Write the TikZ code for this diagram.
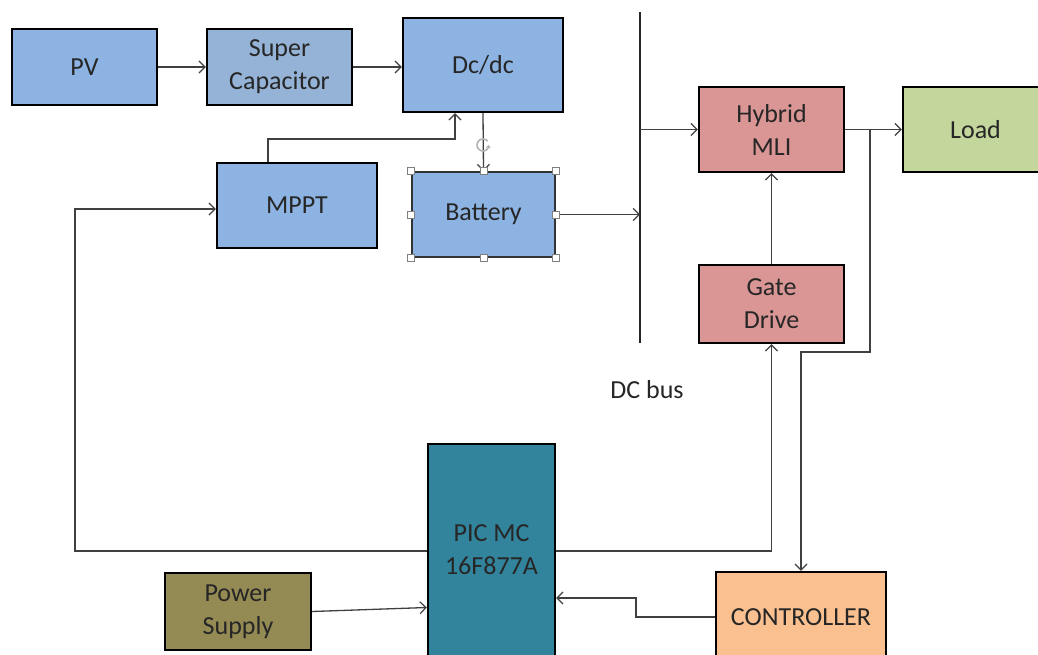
\documentclass[tikz,border=0pt]{standalone}
\usepackage{fontspec}
\setmainfont{Carlito}
\usetikzlibrary{arrows.meta,calc}
\definecolor{blu}{HTML}{8DB3E2}
\definecolor{scblu}{HTML}{95B3D7}
\definecolor{rd}{HTML}{D99694}
\definecolor{grn}{HTML}{C3D69B}
\definecolor{teal}{HTML}{31849B}
\definecolor{olive}{HTML}{948A54}
\definecolor{orng}{HTML}{FAC090}
\definecolor{linec}{HTML}{404040}
\begin{document}
\begin{tikzpicture}[x=1pt,y=-1pt,
  box/.style={draw=black,line width=2.4pt,inner sep=0pt,align=center,
    font=\fontsize{26}{33}\selectfont,text=black!85},
  conn/.style={draw=linec,line width=1.3pt,
    -{Straight Barb[length=6pt,width=12pt,line width=1.2pt]}},
  wire/.style={draw=linec,line width=1.3pt},
  handle/.style={draw=gray,fill=white,line width=0.8pt,minimum size=7pt,inner sep=0pt}]
\useasboundingbox (0,0) rectangle (1038,655);
\begin{scope}
\clip (0,0) rectangle (1038,655);
% boxes
\node[box,fill=blu,minimum width=145pt,minimum height=76pt] (pv) at (84.5,67) {PV};
\node[box,fill=scblu,minimum width=145pt,minimum height=76pt] (sc) at (279.5,67) {Super\\Capacitor};
\node[box,fill=blu,minimum width=160pt,minimum height=94pt] (dcdc) at (483,65) {Dc/dc};
\node[box,fill=blu,minimum width=160pt,minimum height=85pt] (mppt) at (297,205.5) {MPPT};
\node[box,fill=blu,draw=black!80,line width=1.5pt,minimum width=143pt,minimum height=85pt] (bat) at (483.5,214.5) {Battery};
\node[box,fill=rd,minimum width=145pt,minimum height=85pt] (hyb) at (771.5,129.5) {Hybrid\\MLI};
\node[box,fill=grn,minimum width=145pt,minimum height=85pt] (load) at (975.5,129.5) {Load};
\node[box,fill=rd,minimum width=145pt,minimum height=78pt] (gate) at (771.5,304) {Gate\\Drive};
\node[box,fill=teal,minimum width=127pt,minimum height=212pt] (pic) at (491.5,550) {PIC MC\\16F877A};
\node[box,fill=olive,minimum width=146pt,minimum height=77pt] (ps) at (238,611.5) {Power\\Supply};
\node[box,fill=orng,minimum width=170pt,minimum height=90pt] (ctrl) at (801,617) {CONTROLLER};
\node[font=\fontsize{26}{33}\selectfont,text=black!85] (dcbus) at (647,390) {DC bus};
% DC bus line
\coordinate (bustop) at (640,12);
\coordinate (busbot) at (640,343);
\draw[line width=1.6pt,black!85] (bustop) -- (busbot);
\coordinate (busB) at (640,214.5);
\coordinate (busH) at (640,129.5);
% connectors
\draw[conn] (pv.east) -- (sc.west);
\draw[conn] (sc.east) -- (sc.east -| dcdc.west);
\coordinate (m1) at (268,139);
\draw[conn] (mppt.north -| m1) -- (m1) -| (dcdc.south -| 455,0);
\draw[conn] (dcdc.south) -- (bat.north);
\draw[conn] (bat.east) -- (busB);
\draw[conn] (busH) -- (hyb.west);
\draw[conn] (hyb.east) -- (load.west);
\draw[conn] (gate.north) -- (hyb.south);
\coordinate (tap) at (870,129.5);
\coordinate (t2) at (870,352);
\draw[conn] (tap) -- (t2) -| (ctrl.north);
\draw[conn] (pic.east |- 0,551) -| (gate.south);
\coordinate (c1) at (636,617);
\draw[conn] (ctrl.west) -- (c1) |- (pic.east |- 0,598);
\draw[conn] (ps.east) -- (pic.west |- 0,607.5);
\coordinate (l1) at (75,551);
\coordinate (l2) at (75,209);
\draw[conn] (pic.west |- l1) -- (l1) -- (l2) -- (mppt.west |- l2);
% selection handles of the battery box
\foreach \a in {north west,north,north east,east,south east,south,south west,west}
  \node[handle] at (bat.\a) {};
% rotation handle
\draw[gray!60,line width=1.6pt] (483,145) ++(40:6pt) arc[start angle=40,end angle=330,radius=6pt];
\draw[gray!60,line width=1pt,-{Straight Barb[length=2pt,width=4pt]}] (483,145) ++(330:6pt) -- ++(80:3pt);
\end{scope}
\end{tikzpicture}
\end{document}
